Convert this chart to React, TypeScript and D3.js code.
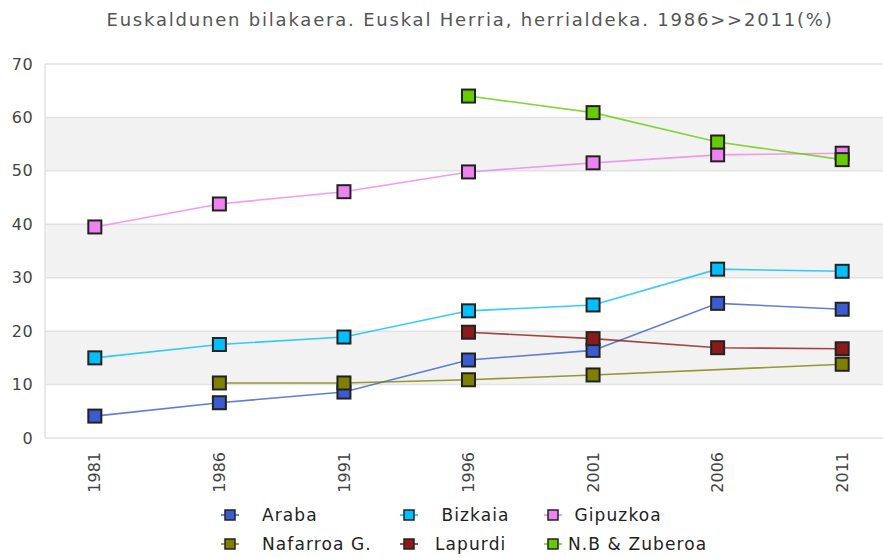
import React, { useEffect, useRef } from "react";
import * as d3 from "d3";

// Data
const years = ["1981", "1986", "1991", "1996", "2001", "2006", "2011"];
const araba = [4.1, 6.6, 8.6, 14.6, 16.4, 25.2, 24.1];
const bizkaia = [15.0, 17.5, 18.9, 23.8, 24.9, 31.6, 31.2];
const gipuzkoa = [39.5, 43.8, 46.1, 49.8, 51.5, 53.0, 53.3];
const nafarroa = [null, 10.3, 10.3, 10.9, 11.8, null, 13.8];
const lapurdi = [null, null, null, 19.8, 18.6, 16.9, 16.7];
const nbZuberoa = [null, null, null, 64.0, 60.9, 55.4, 52.1];
const seriesNames = ["Araba", "Bizkaia", "Gipuzkoa", "Nafarroa G.", "Lapurdi", "N.B & Zuberoa"];
const legendLabels = ["Araba", " Bizkaia", " Gipuzkoa", "Nafarroa G.", "Lapurdi", "N.B & Zuberoa"];
const colors = ["#3b5bd0", "#00bfff", "#ee82ee", "#808000", "#8b1a1a", "#66cc00"];
const yTicks = [0, 10, 20, 30, 40, 50, 60, 70];
const title = "Euskaldunen bilakaera. Euskal Herria, herrialdeka. 1986>>2011(%)";

const App = () => {
  const ref = useRef<SVGSVGElement>(null);

  useEffect(() => {
    const width = 883;
    const height = 558;
    const plot = { left: 45, right: 892, top: 64, bottom: 438 };
    const allSeries = [araba, bizkaia, gipuzkoa, nafarroa, lapurdi, nbZuberoa];

    const svg = d3.select(ref.current);
    svg.selectAll("*").remove();
    svg.attr("width", width).attr("height", height);

    const font = "'DejaVu Sans', sans-serif";

    // Scales
    const x = d3.scalePoint().domain(years).range([plot.left, plot.right]).padding(0.4);
    const y = d3.scaleLinear().domain([0, 70]).range([plot.bottom, plot.top]);

    // Title
    svg
      .append("text")
      .attr("x", 470)
      .attr("y", 26)
      .attr("text-anchor", "middle")
      .attr("font-family", font)
      .attr("font-size", 18)
      .attr("letter-spacing", 1.8)
      .attr("fill", "#555")
      .text(title);

    // Alternating bands
    const bands = yTicks.slice(0, -1).filter((d, i) => i % 2 === 1);
    svg
      .selectAll(".band")
      .data(bands)
      .enter()
      .append("rect")
      .attr("x", plot.left)
      .attr("y", (d) => y(d + 10))
      .attr("width", width - plot.left)
      .attr("height", (d) => y(d) - y(d + 10))
      .attr("fill", "#f2f2f2");

    // Gridlines
    svg
      .selectAll(".grid")
      .data(yTicks)
      .enter()
      .append("line")
      .attr("x1", plot.left)
      .attr("x2", width)
      .attr("y1", (d) => y(d))
      .attr("y2", (d) => y(d))
      .attr("stroke", "#e2e2e2")
      .attr("stroke-width", 1.5);

    // Left axis line
    svg
      .append("line")
      .attr("x1", plot.left)
      .attr("x2", plot.left)
      .attr("y1", plot.top)
      .attr("y2", plot.bottom)
      .attr("stroke", "#e2e2e2")
      .attr("stroke-width", 1.5);

    // Y tick labels
    svg
      .selectAll(".ylab")
      .data(yTicks)
      .enter()
      .append("text")
      .attr("x", 33)
      .attr("y", (d) => y(d))
      .attr("dy", "0.35em")
      .attr("text-anchor", "end")
      .attr("font-family", font)
      .attr("font-size", 16)
      .attr("letter-spacing", 0.4)
      .attr("fill", "#444")
      .text((d) => d);

    // X tick labels (rotated)
    svg
      .selectAll(".xlab")
      .data(years)
      .enter()
      .append("text")
      .attr("transform", (d) => `translate(${x(d)},${plot.bottom + 14}) rotate(-90)`)
      .attr("dy", "0.35em")
      .attr("text-anchor", "end")
      .attr("font-family", font)
      .attr("font-size", 16)
      .attr("fill", "#444")
      .text((d) => d);

    // Lines (gaps bridged)
    allSeries.forEach((values, i) => {
      const pts = years
        .map((yr, j) => ({ yr, v: values[j] }))
        .filter((p) => p.v != null);
      const line = d3
        .line<{ yr: string; v: number | null }>()
        .x((p) => x(p.yr) as number)
        .y((p) => y(p.v as number));
      svg
        .append("path")
        .datum(pts)
        .attr("d", line)
        .attr("fill", "none")
        .attr("stroke", colors[i])
        .attr("stroke-opacity", 0.8)
        .attr("stroke-width", 1.6);
    });

    // Markers
    allSeries.forEach((values, i) => {
      const pts = years
        .map((yr, j) => ({ yr, v: values[j] }))
        .filter((p) => p.v != null && !(i === 3 && p.yr === "2006"));
      svg
        .selectAll(".m" + i)
        .data(pts)
        .enter()
        .append("rect")
        .attr("x", (p) => (x(p.yr) as number) - 6.5)
        .attr("y", (p) => y(p.v as number) - 6.5)
        .attr("width", 13)
        .attr("height", 13)
        .attr("fill", colors[i])
        .attr("stroke", "#222")
        .attr("stroke-width", 2);
    });

    // Legend
    const legendCols = [230, 409, 553];
    const legendText = [262, 435, 568];
    const legendRows = [515, 544];
    seriesNames.forEach((name, i) => {
      const cx = legendCols[i % 3];
      const cy = legendRows[Math.floor(i / 3)];
      const g = svg.append("g");
      g.append("line")
        .attr("x1", cx - 9)
        .attr("x2", cx + 9)
        .attr("y1", cy)
        .attr("y2", cy)
        .attr("stroke", colors[i])
        .attr("stroke-width", 1.5);
      g.append("rect")
        .attr("x", cx - 5)
        .attr("y", cy - 5)
        .attr("width", 10)
        .attr("height", 10)
        .attr("fill", colors[i])
        .attr("stroke", "#222")
        .attr("stroke-width", 1.5);
      g.append("text")
        .attr("x", legendText[i % 3])
        .attr("y", cy)
        .attr("dy", "0.35em")
        .attr("font-family", font)
        .attr("font-size", 17)
        .attr("letter-spacing", 1.1)
        .attr("fill", "#222")
        .style("white-space", "pre")
        .text(legendLabels[i]);
    });
  }, []);

  return (
    <div>
      <svg ref={ref} style={{ position: "absolute", left: 0, top: 0 }}></svg>
    </div>
  );
};

export default App;
